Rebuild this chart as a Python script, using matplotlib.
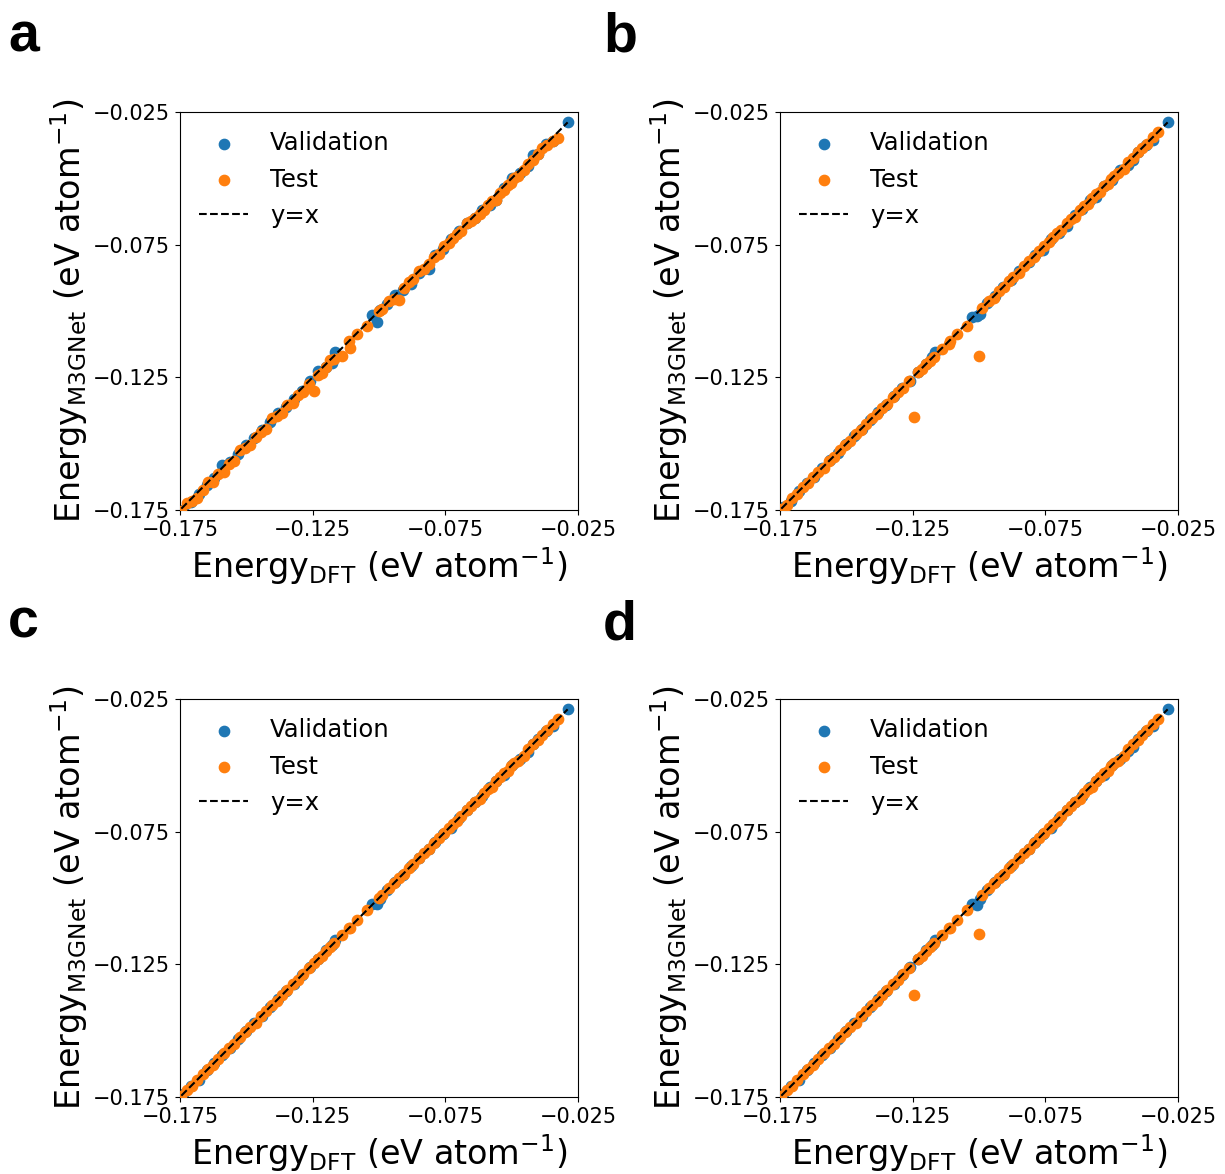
#!/usr/bin/env python3
'''
Parity plots of M3GNet vs DFT energies for four training runs (panels a-d).

Each panel shows the validation and test structures against the y=x line.
Predicted energies are stored as residuals (meV/atom) read off the figure,
added to the shared DFT energies of the validation and test sets.

Usage:

    python3 plot.py
'''

import numpy as np
import matplotlib.pyplot as plt

#-------------
#data (eV/atom for DFT, meV/atom for residuals)
#-------------

VAL_DFT = [-0.1740, -0.1710, -0.1680, -0.1650, -0.1620, -0.1590, -0.1560, -0.1530, -0.1500, -0.1470,
           -0.1440, -0.1410, -0.1380, -0.1350, -0.1320, -0.1290, -0.1260, -0.1230, -0.1200, -0.1177,
           -0.1164, -0.1026, -0.1007, -0.0995, -0.0970, -0.0940, -0.0910, -0.0880, -0.0850, -0.0812,
           -0.0790, -0.0760, -0.0730, -0.0700, -0.0670, -0.0640, -0.0610, -0.0580, -0.0560, -0.0530,
           -0.0500, -0.0470, -0.0440, -0.0421, -0.0400, -0.0370, -0.0345, -0.0289]

TEST_DFT = [-0.1745, -0.1725, -0.1705, -0.1685, -0.1665, -0.1645, -0.1625, -0.1605, -0.1585, -0.1565,
            -0.1545, -0.1525, -0.1505, -0.1485, -0.1465, -0.1445, -0.1425, -0.1405, -0.1385, -0.1365,
            -0.1345, -0.1325, -0.1305, -0.1285, -0.1265, -0.1246, -0.1230, -0.1215, -0.1200, -0.1185,
            -0.1170, -0.1139, -0.1114, -0.1108, -0.1083, -0.1045, -0.1000, -0.0988, -0.0963, -0.0945,
            -0.0925, -0.0905, -0.0887, -0.0870, -0.0850, -0.0830, -0.0812, -0.0793, -0.0775, -0.0755,
            -0.0735, -0.0720, -0.0705, -0.0690, -0.0670, -0.0654, -0.0640, -0.0620, -0.0604, -0.0590,
            -0.0575, -0.0560, -0.0545, -0.0530, -0.0515, -0.0503, -0.0490, -0.0475, -0.0453, -0.0440,
            -0.0420, -0.0400, -0.0387, -0.0365, -0.0345, -0.0327]

#residuals (M3GNet - DFT) per panel
VAL_ERR_A = [-1, -1, -1, -0.5, -1, 1, -1, -1, -0.5, -1, -1, -1, -0.5, -1, -1, -1, -0.5, 0.5, -1, -2,
             1, 1, -3.5, 0, -0.5, 0, -1, -2, -0.5, -3,
             0, -0.5, 0, 0, 0, -1, -1, -2, -2, -0.5,
             0, -1, -1.5, 1, -1, 0, -1.5, 0]
TEST_ERR_A = [-1, 0, -1, -2, -1, 0, -2, -1, -2, -1,
              -2, 0, -1, -2, -1, -1, -2, 0, -1, -2,
              -1, -2, -1, -2, -1, -5.5, -1, -2, -1, 0,
              -1, -3, 0, -3, -0.5, -1, 0, -0.5, 0, -1,
              -3.5, -1, -0.5, -1, 0, -1, -1, -0.5, -1, 0,
              -1, -0.5, -0.5, -1, 0, -0.5, -1, -1.5, -1.5, -1,
              -1, -2, -1, -1.5, -1, -1.5, -1, -1.5, -1.5, -0.5,
              -1, -1, 0, -1, -1.5, -2]

VAL_ERR_B = [0, -0.5, 0, 0, -0.5, 0, 0, -0.5, 0, 0, -0.5, 0, 0, -0.5, 0, 0, -0.5, 0, 0, 0.5,
             1, 0.5, -1, -1.5, 0, -0.5, 0, -0.5, 0, -0.5,
             0, -1, 0, -0.5, -1, 0, -0.5, 0, -1, 0,
             -0.5, 0, -1, -1, 0, -0.5, -1, 0]
TEST_ERR_B = [0, -0.5, 0, -0.5, 0, -0.5, 0, 0, -0.5, 0,
              -0.5, 0, 0, -0.5, 0, -0.5, 0, 0, -0.5, 0,
              -0.5, 0, 0, -0.5, 0, -15.2, 0, -0.5, 0, -0.5,
              -0.5, -0.5, -1, -0.5, -0.5, -1, -16.8, 0, 0, -0.5,
              0, -0.5, 0, 0, -0.5, 0, 0, -0.5, 0, 0,
              -0.5, 0, 0, -0.5, 0, 0, -0.5, 0, 0, -0.5,
              0, 0, -0.5, 0, -0.5, 0, 0, -0.5, -1, 0,
              -0.5, 0, 0, -0.5, 0, 0]

VAL_ERR_C = [0, 0, -0.5, 0, 0, 0, -0.5, 0, 0, 0, -0.5, 0, 0, 0, -0.5, 0, 0, 0, 0.5, 0,
             0.5, 0.5, -1.5, -1, 0, 0, -0.5, 0, 0, -0.5,
             0, 0, -0.5, 0, 0, 0, -0.5, 0, 0, -0.5,
             0, -0.5, -1, 0, 0, 0, -0.5, 0]
TEST_ERR_C = [0, 0, -0.5, 0, 0, 0, -0.5, 0, 0, 0,
              -0.5, 0, 0, 0, -0.5, 0, 0, 0, -0.5, 0,
              0, 0, -0.5, 0, 0, 0, 0, -0.5, 0, 0,
              0, 0, 0, -0.5, 0, 0, 0, 0, 0, 0,
              0, -0.5, 0, 0, 0, 0, -0.5, 0, 0, 0,
              0, 0, -0.5, 0, 0, 0, 0, -0.5, 0, 0,
              -0.5, 0, 0, 0, -0.5, 0, 0, -1, -1, 0,
              0, -0.5, 0, 0, 0, 0]

VAL_ERR_D = [0, 0, -0.5, 0, 0, 0, -0.5, 0, 0, 0, -0.5, 0, 0, 0, -0.5, 0, 0, 0, 0.5, 0,
             0.5, 0.5, -2, -1, 0, 0, -0.5, 0, 0, -0.5,
             0, 0, -0.5, 0, 0, 0, -0.5, 0, 0, -0.5,
             0, -0.5, -0.5, -1, 0, 0, -0.5, 0]
TEST_ERR_D = [0, 0, -0.5, 0, 0, 0, -0.5, 0, 0, 0,
              -0.5, 0, 0, 0, -0.5, 0, 0, 0, -0.5, 0,
              0, 0, -0.5, 0, 0, -11.8, 0, -0.5, 0, 0,
              0, 0, 0, -0.5, 0, 0, -13.5, 0, 0, 0,
              0, -0.5, 0, 0, 0, 0, -0.5, 0, 0, 0,
              0, 0, -0.5, 0, 0, 0, 0, -0.5, 0, 0,
              -0.5, 0, 0, 0, -0.5, 0, 0, -1, -1, 0,
              0, -0.5, 0, 0, 0, 0]

PANEL_LABELS = ['a', 'b', 'c', 'd']
TICKS = [-0.175, -0.125, -0.075, -0.025]


#-------
#plotting stuff
#-------

def parity_panel(ax, val_err, test_err):
    '''
    Draws one parity plot: validation + test scatter and the y=x line.
    '''
    val_dft  = np.array(VAL_DFT)
    test_dft = np.array(TEST_DFT)
    val_pred  = val_dft + np.array(val_err) / 1000.0
    test_pred = test_dft + np.array(test_err) / 1000.0

    ax.scatter(val_dft, val_pred, s=55, color='tab:blue', label='Validation', zorder=2)
    ax.scatter(test_dft, test_pred, s=55, color='tab:orange', label='Test', zorder=3)

    lo = min(val_dft.min(), test_dft.min())
    hi = max(val_dft.max(), test_dft.max())
    ax.plot([lo, hi], [lo, hi], 'k--', lw=1.5, label='y=x', zorder=4)

    ax.set_xlim(-0.175, -0.025)
    ax.set_ylim(-0.175, -0.025)
    ax.set_xticks(TICKS)
    ax.set_yticks(TICKS)
    ax.tick_params(labelsize=15)

    ax.set_xlabel(r'Energy$_{\rm DFT}$ (eV atom$^{-1}$)', fontsize=24)
    ax.set_ylabel(r'Energy$_{\rm M3GNet}$ (eV atom$^{-1}$)', fontsize=24, labelpad=2)
    ax.legend(loc='upper left', frameon=False, fontsize=17.5,
              handletextpad=0.9, borderaxespad=0.4)


def main():
    fig = plt.figure(figsize=(12.25, 11.74), dpi=100)

    lefts   = [180 / 1225, 780 / 1225, 180 / 1225, 780 / 1225]
    bottoms = [1 - 510 / 1174, 1 - 510 / 1174, 1 - 1097 / 1174, 1 - 1097 / 1174]
    w, h = 398 / 1225, 398 / 1174

    errs = [(VAL_ERR_A, TEST_ERR_A), (VAL_ERR_B, TEST_ERR_B),
            (VAL_ERR_C, TEST_ERR_C), (VAL_ERR_D, TEST_ERR_D)]

    #panel letter positions (pixels: x, baseline)
    letter_xy = [(8, 52), (603, 52), (8, 638), (603, 640)]

    for i, label in enumerate(PANEL_LABELS):
        ax = fig.add_axes([lefts[i], bottoms[i], w, h])
        parity_panel(ax, *errs[i])
        lx, ly = letter_xy[i]
        fig.text(lx / 1225, 1 - ly / 1174, label, fontsize=40, fontweight='bold',
                 family='Liberation Sans', va='baseline', ha='left')

    fig.savefig('out.png', dpi=100)
    plt.close(fig)


if __name__ == "__main__":
    main()
